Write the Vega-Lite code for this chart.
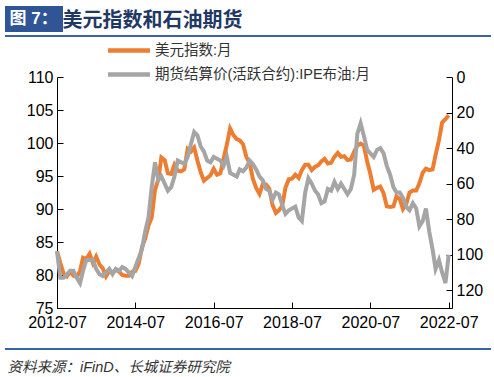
{
  "$schema": "https://vega.github.io/schema/vega-lite/v6.json",
  "width": 395,
  "height": 231,
  "autosize": {"type": "none"},
  "padding": {"left": 57, "top": 77, "right": 42, "bottom": 69},
  "background": "white",
  "config": {
    "view": {"stroke": null},
    "font": "Liberation Sans, Noto Sans CJK SC",
    "axis": {"grid": false, "domainColor": "#000", "tickColor": "#000", "labelColor": "#000", "labelFont": "Liberation Sans, Noto Sans CJK SC", "labelFontSize": 16, "domainWidth": 1, "tickWidth": 1, "tickSize": -6, "labelFlush": false, "labelOverlap": false, "labelBound": false}
  },
  "data": {"values": [
    {"date": "2012/07/01", "usd": 83.6, "brent": 98},
    {"date": "2012/08/01", "usd": 81.8, "brent": 113},
    {"date": "2012/09/01", "usd": 80.2, "brent": 113},
    {"date": "2012/10/01", "usd": 79.8, "brent": 111},
    {"date": "2012/11/01", "usd": 80.5, "brent": 109},
    {"date": "2012/12/01", "usd": 79.9, "brent": 109},
    {"date": "2013/01/01", "usd": 79.7, "brent": 113},
    {"date": "2013/02/01", "usd": 80.6, "brent": 116},
    {"date": "2013/03/01", "usd": 82.6, "brent": 109},
    {"date": "2013/04/01", "usd": 82.4, "brent": 103},
    {"date": "2013/05/01", "usd": 83.2, "brent": 103},
    {"date": "2013/06/01", "usd": 81.8, "brent": 103},
    {"date": "2013/07/01", "usd": 82.8, "brent": 108},
    {"date": "2013/08/01", "usd": 81.6, "brent": 111},
    {"date": "2013/09/01", "usd": 81.0, "brent": 112},
    {"date": "2013/10/01", "usd": 79.8, "brent": 110},
    {"date": "2013/11/01", "usd": 80.6, "brent": 108},
    {"date": "2013/12/01", "usd": 80.4, "brent": 111},
    {"date": "2014/01/01", "usd": 80.8, "brent": 108},
    {"date": "2014/02/01", "usd": 80.5, "brent": 109},
    {"date": "2014/03/01", "usd": 80.0, "brent": 107},
    {"date": "2014/04/01", "usd": 79.9, "brent": 108},
    {"date": "2014/05/01", "usd": 79.9, "brent": 110},
    {"date": "2014/06/01", "usd": 80.5, "brent": 112},
    {"date": "2014/07/01", "usd": 80.6, "brent": 107},
    {"date": "2014/08/01", "usd": 81.7, "brent": 102},
    {"date": "2014/09/01", "usd": 84.2, "brent": 97},
    {"date": "2014/10/01", "usd": 85.5, "brent": 87},
    {"date": "2014/11/01", "usd": 87.5, "brent": 79},
    {"date": "2014/12/01", "usd": 88.7, "brent": 62},
    {"date": "2015/01/01", "usd": 92.9, "brent": 48},
    {"date": "2015/02/01", "usd": 94.5, "brent": 58},
    {"date": "2015/03/01", "usd": 97.8, "brent": 56},
    {"date": "2015/04/01", "usd": 97.4, "brent": 60},
    {"date": "2015/05/01", "usd": 95.4, "brent": 64},
    {"date": "2015/06/01", "usd": 95.3, "brent": 62},
    {"date": "2015/07/01", "usd": 96.7, "brent": 56},
    {"date": "2015/08/01", "usd": 95.8, "brent": 47},
    {"date": "2015/09/01", "usd": 95.7, "brent": 48},
    {"date": "2015/10/01", "usd": 96.0, "brent": 49},
    {"date": "2015/11/01", "usd": 99.1, "brent": 45},
    {"date": "2015/12/01", "usd": 98.7, "brent": 38},
    {"date": "2016/01/01", "usd": 99.3, "brent": 31},
    {"date": "2016/02/01", "usd": 97.3, "brent": 33},
    {"date": "2016/03/01", "usd": 95.6, "brent": 39},
    {"date": "2016/04/01", "usd": 94.3, "brent": 42},
    {"date": "2016/05/01", "usd": 94.7, "brent": 47},
    {"date": "2016/06/01", "usd": 95.1, "brent": 48},
    {"date": "2016/07/01", "usd": 96.1, "brent": 45},
    {"date": "2016/08/01", "usd": 95.2, "brent": 46},
    {"date": "2016/09/01", "usd": 95.4, "brent": 47},
    {"date": "2016/10/01", "usd": 97.6, "brent": 50},
    {"date": "2016/11/01", "usd": 99.8, "brent": 45},
    {"date": "2016/12/01", "usd": 102.2, "brent": 54},
    {"date": "2017/01/01", "usd": 101.2, "brent": 55},
    {"date": "2017/02/01", "usd": 100.6, "brent": 56},
    {"date": "2017/03/01", "usd": 100.4, "brent": 52},
    {"date": "2017/04/01", "usd": 99.8, "brent": 53},
    {"date": "2017/05/01", "usd": 97.9, "brent": 51},
    {"date": "2017/06/01", "usd": 97.0, "brent": 47},
    {"date": "2017/07/01", "usd": 94.6, "brent": 49},
    {"date": "2017/08/01", "usd": 93.2, "brent": 52},
    {"date": "2017/09/01", "usd": 92.3, "brent": 56},
    {"date": "2017/10/01", "usd": 93.7, "brent": 58},
    {"date": "2017/11/01", "usd": 93.7, "brent": 63},
    {"date": "2017/12/01", "usd": 93.1, "brent": 64},
    {"date": "2018/01/01", "usd": 90.6, "brent": 69},
    {"date": "2018/02/01", "usd": 89.4, "brent": 65},
    {"date": "2018/03/01", "usd": 89.8, "brent": 66},
    {"date": "2018/04/01", "usd": 90.5, "brent": 72},
    {"date": "2018/05/01", "usd": 93.2, "brent": 77},
    {"date": "2018/06/01", "usd": 94.5, "brent": 75},
    {"date": "2018/07/01", "usd": 94.6, "brent": 74},
    {"date": "2018/08/01", "usd": 95.2, "brent": 73},
    {"date": "2018/09/01", "usd": 94.7, "brent": 79},
    {"date": "2018/10/01", "usd": 95.9, "brent": 81},
    {"date": "2018/11/01", "usd": 96.7, "brent": 65},
    {"date": "2018/12/01", "usd": 96.7, "brent": 57},
    {"date": "2019/01/01", "usd": 95.9, "brent": 60},
    {"date": "2019/02/01", "usd": 96.4, "brent": 64},
    {"date": "2019/03/01", "usd": 96.6, "brent": 66},
    {"date": "2019/04/01", "usd": 97.2, "brent": 71},
    {"date": "2019/05/01", "usd": 97.6, "brent": 70},
    {"date": "2019/06/01", "usd": 96.9, "brent": 63},
    {"date": "2019/07/01", "usd": 97.0, "brent": 64},
    {"date": "2019/08/01", "usd": 97.9, "brent": 59},
    {"date": "2019/09/01", "usd": 98.5, "brent": 63},
    {"date": "2019/10/01", "usd": 97.9, "brent": 60},
    {"date": "2019/11/01", "usd": 98.0, "brent": 63},
    {"date": "2019/12/01", "usd": 97.4, "brent": 66},
    {"date": "2020/01/01", "usd": 97.5, "brent": 63},
    {"date": "2020/02/01", "usd": 98.7, "brent": 55},
    {"date": "2020/03/01", "usd": 99.6, "brent": 32},
    {"date": "2020/04/01", "usd": 99.9, "brent": 26},
    {"date": "2020/05/01", "usd": 99.6, "brent": 33},
    {"date": "2020/06/01", "usd": 97.2, "brent": 41},
    {"date": "2020/07/01", "usd": 95.3, "brent": 43},
    {"date": "2020/08/01", "usd": 92.9, "brent": 45},
    {"date": "2020/09/01", "usd": 93.2, "brent": 41},
    {"date": "2020/10/01", "usd": 93.4, "brent": 40},
    {"date": "2020/11/01", "usd": 92.4, "brent": 43},
    {"date": "2020/12/01", "usd": 90.4, "brent": 50},
    {"date": "2021/01/01", "usd": 90.3, "brent": 55},
    {"date": "2021/02/01", "usd": 90.4, "brent": 62},
    {"date": "2021/03/01", "usd": 91.9, "brent": 65},
    {"date": "2021/04/01", "usd": 91.5, "brent": 65},
    {"date": "2021/05/01", "usd": 90.0, "brent": 68},
    {"date": "2021/06/01", "usd": 90.8, "brent": 73},
    {"date": "2021/07/01", "usd": 92.5, "brent": 75},
    {"date": "2021/08/01", "usd": 92.8, "brent": 71},
    {"date": "2021/09/01", "usd": 92.8, "brent": 74},
    {"date": "2021/10/01", "usd": 93.9, "brent": 84},
    {"date": "2021/11/01", "usd": 95.5, "brent": 81},
    {"date": "2021/12/01", "usd": 96.1, "brent": 74},
    {"date": "2022/01/01", "usd": 95.9, "brent": 87},
    {"date": "2022/02/01", "usd": 96.0, "brent": 97},
    {"date": "2022/03/01", "usd": 98.2, "brent": 108},
    {"date": "2022/04/01", "usd": 100.4, "brent": 103},
    {"date": "2022/05/01", "usd": 103.1, "brent": 110},
    {"date": "2022/06/01", "usd": 103.6, "brent": 116},
    {"date": "2022/07/01", "usd": 104.2, "brent": 100}
  ]},
  "layer": [
    {
      "mark": {"type": "line", "strokeWidth": 4},
      "encoding": {
        "x": {
          "field": "date", "type": "temporal",
          "scale": {"domain": [{"year": 2012, "month": 7, "date": 1}, {"year": 2022, "month": 8, "date": 1}]},
          "axis": {
            "values": [{"year": 2012, "month": 7, "date": 1}, {"year": 2014, "month": 7, "date": 1}, {"year": 2016, "month": 7, "date": 1}, {"year": 2018, "month": 7, "date": 1}, {"year": 2020, "month": 7, "date": 1}, {"year": 2022, "month": 7, "date": 1}],
            "format": "%Y-%m", "labelPadding": 12.5,
            "title": "资料来源：iFinD、长城证券研究院",
            "titleX": -50, "titleY": 59, "titleAlign": "left", "titleBaseline": "middle", "titleAngle": 0,
            "titleFontStyle": "italic", "titleFontWeight": "normal", "titleFontSize": 14.5, "titleColor": "#333333",
            "titleFont": "Liberation Sans, Noto Sans CJK SC"
          }
        },
        "y": {
          "field": "usd", "type": "quantitative",
          "scale": {"domain": [75, 110], "zero": false, "nice": false},
          "axis": {
            "orient": "left", "values": [75, 80, 85, 90, 95, 100, 105, 110], "labelPadding": 10,
            "title": "美元指数和石油期货", "titleX": 5, "titleY": -57, "titleAngle": 0, "titleAlign": "left", "titleBaseline": "middle",
            "titleFontSize": 20, "titleFontWeight": "bold", "titleColor": "#1F3864", "titleFont": "Noto Sans CJK SC"
          }
        },
        "color": {
          "datum": "美元指数:月",
          "scale": {"domain": ["美元指数:月", "期货结算价(活跃合约):IPE布油:月"], "range": ["#ED7D31", "#A5A5A5"]},
          "legend": {
            "orient": "none", "legendX": 59, "legendY": -39.5, "direction": "vertical", "title": null,
            "symbolType": "M-2,0H2", "symbolSize": 441, "symbolStrokeWidth": 4.5,
            "labelFontSize": 14.5, "labelOffset": 13, "rowPadding": 2, "labelColor": "#333333", "labelLimit": 400,
            "labelFont": "Liberation Sans, Noto Sans CJK SC"
          }
        }
      }
    },
    {
      "mark": {"type": "line", "strokeWidth": 4},
      "encoding": {
        "x": {"field": "date", "type": "temporal"},
        "y": {
          "field": "brent", "type": "quantitative",
          "scale": {"domain": [0, 130], "reverse": true, "zero": false, "nice": false},
          "axis": {"orient": "right", "values": [0, 20, 40, 60, 80, 100, 120], "labelPadding": 10, "title": null}
        },
        "color": {"datum": "期货结算价(活跃合约):IPE布油:月"}
      }
    },
    {
      "data": {"values": [{"k": 1}]},
      "mark": {"type": "point", "opacity": 0},
      "encoding": {
        "shape": {
          "datum": "图 7：",
          "legend": {
            "orient": "none", "legendX": -52, "legendY": -71, "title": null,
            "fillColor": "#2F5597", "padding": 4.5,
            "labelColor": "#ffffff", "labelFontSize": 17, "labelFontWeight": "bold", "labelFont": "Liberation Sans, Noto Sans CJK SC",
            "symbolSize": 0.01, "symbolOpacity": 0, "symbolStrokeWidth": 0, "labelOffset": -17
          }
        },
        "fill": {
          "datum": 1, "type": "quantitative",
          "scale": {"domain": [0, 1], "range": ["#3B62A8", "#3B62A8"]},
          "legend": {
            "orient": "none", "legendX": -52, "legendY": -42, "direction": "horizontal", "title": null,
            "gradientLength": 486, "gradientThickness": 2, "gradientStrokeWidth": 0,
            "labelOpacity": 0, "labelFontSize": 1
          }
        },
        "stroke": {
          "datum": 1, "type": "quantitative",
          "scale": {"domain": [0, 2], "range": ["#3B62A8", "#3B62A8"]},
          "legend": {
            "orient": "none", "legendX": -52, "legendY": 271, "direction": "horizontal", "title": null,
            "gradientLength": 486, "gradientThickness": 2, "gradientStrokeWidth": 0,
            "labelOpacity": 0, "labelFontSize": 1
          }
        }
      }
    }
  ],
  "resolve": {"scale": {"y": "independent"}}
}
